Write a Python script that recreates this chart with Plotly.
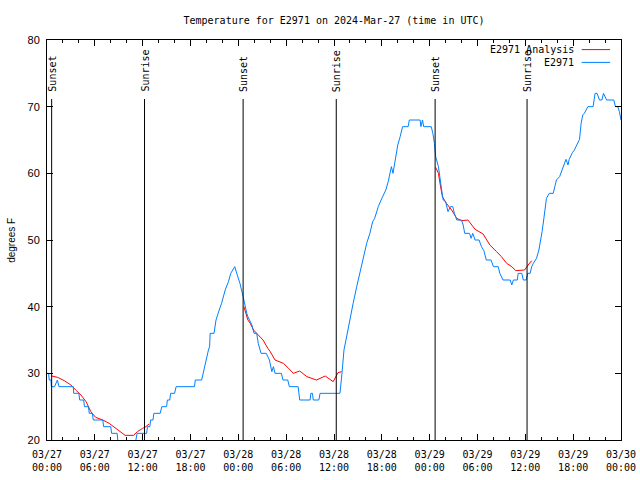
import pandas as pd
import plotly.graph_objects as go

BASE = pd.Timestamp("2024-03-27 00:00")

# Observed station temperature (hours since 03/27 00:00 UTC, degrees F)
obs_hours = [0.0, 0.2, 0.28, 0.5, 0.55, 0.95, 1.3, 1.5, 3.3, 3.35, 4.0, 4.1, 4.6, 4.7, 5.2, 5.3, 5.7, 5.8,
             7.0, 7.1, 8.0, 8.1, 8.8, 8.95, 11.0, 11.15, 11.3, 12.5, 12.6, 12.9, 13.0, 13.3, 13.4, 14.2,
             14.4, 15.0, 15.1, 15.4, 15.5, 16.0, 16.2, 18.5, 18.6, 19.4,
             19.75, 20.0, 20.25, 20.4, 20.46, 20.95, 21.2, 21.6, 21.9, 22.35, 22.76, 23.05, 23.55, 23.8,
             24.2, 24.6, 24.85, 25.06, 25.2, 25.7, 25.97, 26.3, 26.5, 26.85, 27.5, 27.9, 28.2, 28.4,
             28.6, 29.4, 29.6, 30.2, 30.4, 31.5, 31.7, 33.0, 33.1, 33.3, 33.4, 34.1, 34.25, 36.75,
             37.0, 37.25, 37.5, 37.8, 38.1, 38.4, 38.85, 39.3, 39.7, 40.1, 40.5, 40.85, 41.1, 41.55,
             42.0, 42.3, 42.5, 42.8, 43.0, 43.2, 43.4, 43.65, 43.9, 44.0, 44.3, 44.6, 45.3, 45.45,
             46.8, 46.9, 47.1, 47.25, 48.2, 48.4, 48.6, 48.75, 49.1, 49.3, 49.5, 49.7, 50.0, 50.3,
             50.6, 50.9, 51.1, 51.4, 52.0, 52.2, 52.4, 53.0, 53.2, 53.4, 53.7, 54.2, 54.5, 54.8,
             55.1, 55.7, 56.0, 56.6, 56.8, 57.2, 58.1, 58.3, 58.5, 59.0, 59.1, 59.55, 59.75, 60.1,
             60.3, 60.6, 60.8, 61.0, 61.2, 61.4, 61.7, 61.9, 62.1, 62.3, 62.5, 62.65, 63.0, 63.5,
             63.7, 63.9, 64.3, 64.5, 64.8, 65.1, 65.35, 65.5, 65.9, 66.15, 66.45, 66.8, 67.0, 67.2,
             67.4, 67.85, 68.5, 68.75, 69.0, 69.3, 69.6, 69.8, 70.2, 71.1, 71.3, 71.6, 71.8, 72.0]
obs_temps = [30, 30, 29, 29, 28, 28, 29, 28, 28, 27, 27, 26, 26, 25, 25, 24, 24, 23,
             23, 22, 22, 21, 21, 19, 19, 20, 21, 21, 22, 22, 23, 23, 24, 24,
             25, 25, 26, 26, 27, 27, 28, 28, 29, 29,
             31, 32, 33.5, 34, 36, 36, 38, 39.5, 40.5, 42.5, 43.75, 45, 46, 45,
             43.5, 41.5, 40, 39, 38.5, 37.25, 36, 36, 34.5, 33, 33, 32, 30.25, 31,
             30, 30, 29, 29, 28, 28, 26, 26, 27, 27, 26, 26, 27, 27,
             30, 33.5, 35, 37, 38.5, 40.5, 43, 45.5, 47.5, 49.5, 51, 52.75, 53.25, 55,
             56.25, 57.1, 57.5, 58.75, 59.75, 61, 60, 61.75, 63.5, 64.25, 65.5, 67, 67, 68,
             68, 67, 68, 67, 67, 66, 64.5, 62.5, 61, 59, 57.5, 56, 55.75, 54.25,
             55, 55, 54, 53, 53, 52.25, 51, 51, 50.25, 51, 50, 50, 49, 48.4,
             47, 47, 46, 46, 45, 44, 44, 43.25, 44, 44, 45, 45, 44, 44,
             45, 45, 46, 46.5, 47, 47.25, 48.5, 49.75, 51.25, 53, 54.75, 56.25, 57, 57,
             58, 59, 59.5, 60.1, 61, 62.1, 61.25, 62.1, 63.1, 63.5, 64.25, 65.1, 67.5, 68.75,
             69, 70, 70, 72, 72, 71, 71, 72, 71, 71, 70, 70, 69.25, 68]

# Analysis temperature (three overnight segments, None = gap)
ana_hours = [0.58, 1.33, 2.17, 3.0, 3.6, 4.26, 4.9, 5.5, 6.1, 7.0, 7.8, 8.65, 9.5, 9.8, 10.85, 11.35,
             12.0, 12.4, 12.8, None,
             24.7, 25.2, 25.5, 25.9, 26.3, 27.1, 27.7, 28.0, 28.6, 29.65, 30.3, 30.9, 31.7, 32.6,
             33.8, 34.9, 35.9, 36.5, 36.95, None,
             48.75, 49.1, 49.3, 49.6, 50.1, 50.75, 51.4, 52.0, 52.8, 53.7, 54.7, 55.55, 56.4, 57.0,
             57.65, 58.3, 58.8, 59.9, 60.35, 60.8]
ana_temps = [29.6, 29.4, 28.9, 28.25, 27.5, 26.75, 25.75, 24.25, 23.4, 23.0, 22.5, 21.75, 20.9, 20.7,
             20.7, 21.25, 21.75, 22.0, 22.4, None,
             40.0, 38.0, 37.5, 36.5, 36.0, 35.0, 33.75, 33.25, 32.0, 31.5, 30.75, 30.0, 30.35, 29.5,
             29.0, 29.6, 28.75, 30.1, 30.25, None,
             60.9, 60.0, 58.5, 56.5, 55.5, 54.5, 53.25, 52.9, 53.0, 51.6, 50.9, 49.25, 48.25, 47.5,
             46.5, 46.0, 45.4, 45.5, 46.25, 46.9]

# Sun events
sun_times = ["2024-03-27 00:35", "2024-03-27 12:14", "2024-03-28 00:36",
             "2024-03-28 12:17", "2024-03-29 00:41", "2024-03-29 12:13"]
sun_labels = ["Sunset", "Sunrise", "Sunset", "Sunrise", "Sunset", "Sunrise"]

series_names = ["E2971 Analysis", "E2971"]
series_colors = ["#ff0000", "#0080ff"]


def to_dt(hours):
    return [BASE + pd.Timedelta(hours=h) if h is not None else None for h in hours]


MONO = "DejaVu Sans Mono"
SANS = "Liberation Sans"

fig = go.Figure()
fig.add_trace(go.Scatter(x=to_dt(ana_hours), y=ana_temps, mode="lines", name=series_names[0],
                         line=dict(color=series_colors[0], width=1), connectgaps=False))
fig.add_trace(go.Scatter(x=to_dt(obs_hours), y=obs_temps, mode="lines", name=series_names[1],
                         line=dict(color=series_colors[1], width=1)))

shapes = []
annotations = []
for t, lab in zip(sun_times, sun_labels):
    shapes.append(dict(type="line", xref="x", yref="y", x0=t, x1=t, y0=20, y1=71.15,
                       line=dict(color="black", width=1)))
    annotations.append(dict(x=t, y=71.9, xref="x", yref="y", text=lab, textangle=-90,
                            showarrow=False, xanchor="center", yanchor="bottom",
                            font=dict(family=MONO, size=10, color="black")))

# gnuplot-style legend (text then line sample)
leg_y = [0.976, 0.944]
for name, col, yy in zip(series_names, series_colors, leg_y):
    annotations.append(dict(x=0.922, y=yy, xref="paper", yref="paper", text=name, showarrow=False,
                            xanchor="right", yanchor="middle",
                            font=dict(family=MONO, size=10, color="black")))
    shapes.append(dict(type="line", xref="paper", yref="paper", x0=0.9315, x1=0.981, y0=yy, y1=yy,
                       line=dict(color=col, width=1)))

annotations.append(dict(x=-0.063, y=0.5, xref="paper", yref="paper", text="degrees F", textangle=-90,
                        showarrow=False, xanchor="center", yanchor="middle",
                        font=dict(family=SANS, size=10, color="black")))

fig.update_layout(
    width=640, height=480,
    margin=dict(l=47, r=19, t=40, b=40, autoexpand=False),
    paper_bgcolor="white", plot_bgcolor="white",
    showlegend=False,
    title=dict(text="Temperature for E2971 on 2024-Mar-27 (time in UTC)", x=0.5, xref="paper",
               xanchor="center", y=1 - 20 / 480, yref="container", yanchor="middle",
               font=dict(family=MONO, size=10, color="black"), automargin=False),
    shapes=shapes, annotations=annotations,
)
fig.update_xaxes(type="date", range=["2024-03-27 00:00", "2024-03-30 00:00"], automargin=False,
                 tick0="2024-03-27 00:00", dtick=6 * 3600 * 1000, tickformat="%m/%d<br>%H:%M",
                 ticks="inside", ticklen=6, tickcolor="black", tickwidth=1, ticklabelstandoff=5,
                 minor=dict(dtick=2 * 3600 * 1000, ticks="inside", ticklen=3, tickcolor="black"),
                 showline=True, linecolor="black", linewidth=1, mirror="ticks",
                 showgrid=False, zeroline=False,
                 tickfont=dict(family=MONO, size=10, color="black"))
fig.update_yaxes(range=[20, 80], dtick=10, ticks="inside", ticklen=6, tickcolor="black", automargin=False,
                 showline=True, linecolor="black", linewidth=1, mirror="ticks", ticklabelstandoff=4,
                 showgrid=False, zeroline=False,
                 tickfont=dict(family=SANS, size=11, color="black"))

fig.write_html("out.html", config={"displayModeBar": False},
               post_script="document.body.style.margin='0px';document.body.style.overflow='hidden';")
